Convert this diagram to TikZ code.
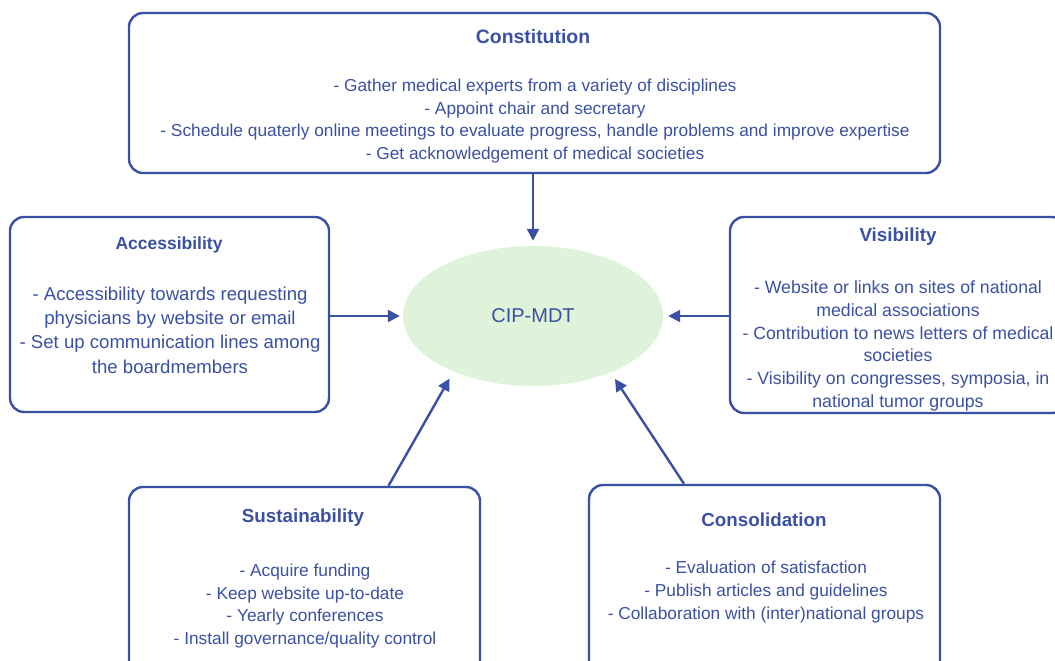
\documentclass[tikz,border=0pt]{standalone}
\usepackage{fontspec}
\setmainfont{Liberation Sans}
\usepackage{tikz}
\usetikzlibrary{arrows.meta, positioning, shapes.geometric}
\definecolor{cipblue}{RGB}{58, 80, 162}
\definecolor{cipgreen}{RGB}{222, 243, 217}

\begin{document}
\begin{tikzpicture}[x=1pt, y=-1pt,
    phasebox/.style={draw=cipblue, line width=2.4pt, rounded corners=14pt, inner sep=0pt},
    phasetitle/.style={text=cipblue, font=\fontsize{18.8}{22}\selectfont\bfseries},
    phasetext/.style={text=cipblue, align=center, font=\fontsize{17.3}{22.6}\selectfont},
    feed/.style={draw=cipblue, line width=2.4pt, -{Triangle[length=12pt, width=12pt]}}]
  \useasboundingbox (0,0) rectangle (1055,661);
  \clip (0,0) rectangle (1055,661);

  % Centre
  \node[ellipse, fill=cipgreen, minimum width=260pt, minimum height=140pt, inner sep=0pt,
    text=cipblue, font=\fontsize{20}{24}\selectfont] (cip) at (533,316) {CIP-MDT};

  % Constitution (top)
  \node[phasebox, minimum width=811pt, minimum height=160pt] (constbox) at (534.5,93) {};
  \node[phasetitle, font=\fontsize{19.4}{22}\selectfont\bfseries] (consttitle) at (533,37) {Constitution};
  \node[phasetext] (consttext) at (535,121) {- Gather medical experts from a variety of disciplines\\
    - Appoint chair and secretary\\
    - Schedule quaterly online meetings to evaluate progress, handle problems and improve expertise\\
    - Get acknowledgement of medical societies};

  % Accessibility (left)
  \node[phasebox, minimum width=319pt, minimum height=195pt] (accbox) at (169.5,314.5) {};
  \node[phasetitle, font=\fontsize{17.5}{22}\selectfont\bfseries] (acctitle) at (169,245) {Accessibility};
  \node[phasetext, font=\fontsize{18.6}{24.3}\selectfont] (acctext) at (170,330) {- Accessibility towards requesting\\
    physicians by website or email\\
    - Set up communication lines among\\
    the boardmembers};

  % Visibility (right)
  \node[phasebox, minimum width=336pt, minimum height=196pt] (visbox) at (898,315) {};
  \node[phasetitle] (vistitle) at (898,237) {Visibility};
  \node[phasetext, font=\fontsize{17.7}{22.7}\selectfont] (vistext) at (898,346) {- Website or links on sites of national\\
    medical associations\\
    - Contribution to news letters of medical\\
    societies\\
    - Visibility on congresses, symposia, in\\
    national tumor groups};

  % Sustainability (bottom left)
  \node[phasebox, minimum width=351pt, minimum height=188pt] (sustbox) at (304.5,581) {};
  \node[phasetitle] (susttitle) at (303,518) {Sustainability};
  \node[phasetext] (susttext) at (305,606) {- Acquire funding\\
    - Keep website up-to-date\\
    - Yearly conferences\\
    - Install governance/quality control};

  % Consolidation (bottom right)
  \node[phasebox, minimum width=351pt, minimum height=190pt] (consbox) at (764.5,580) {};
  \node[phasetitle] (constitle) at (764,520) {Consolidation};
  \node[phasetext] (constext) at (766,592) {- Evaluation of satisfaction\\
    - Publish articles and guidelines\\
    - Collaboration with (inter)national groups};

  % Arrows into the centre
  \draw[feed, shorten >=5pt] (constbox.south -| cip) -- (cip.north);
  \draw[feed, shorten >=3pt] (accbox.east |- cip) -- (cip.west);
  \draw[feed, shorten >=5pt] (visbox.west |- cip) -- (cip.east);
  \draw[feed, shorten >=8pt] ([xshift=84pt]sustbox.north) -- (cip.215.7);
  \draw[feed, shorten >=8pt] ([xshift=-80.5pt]consbox.north) -- (cip.324.3);
\end{tikzpicture}
\end{document}
